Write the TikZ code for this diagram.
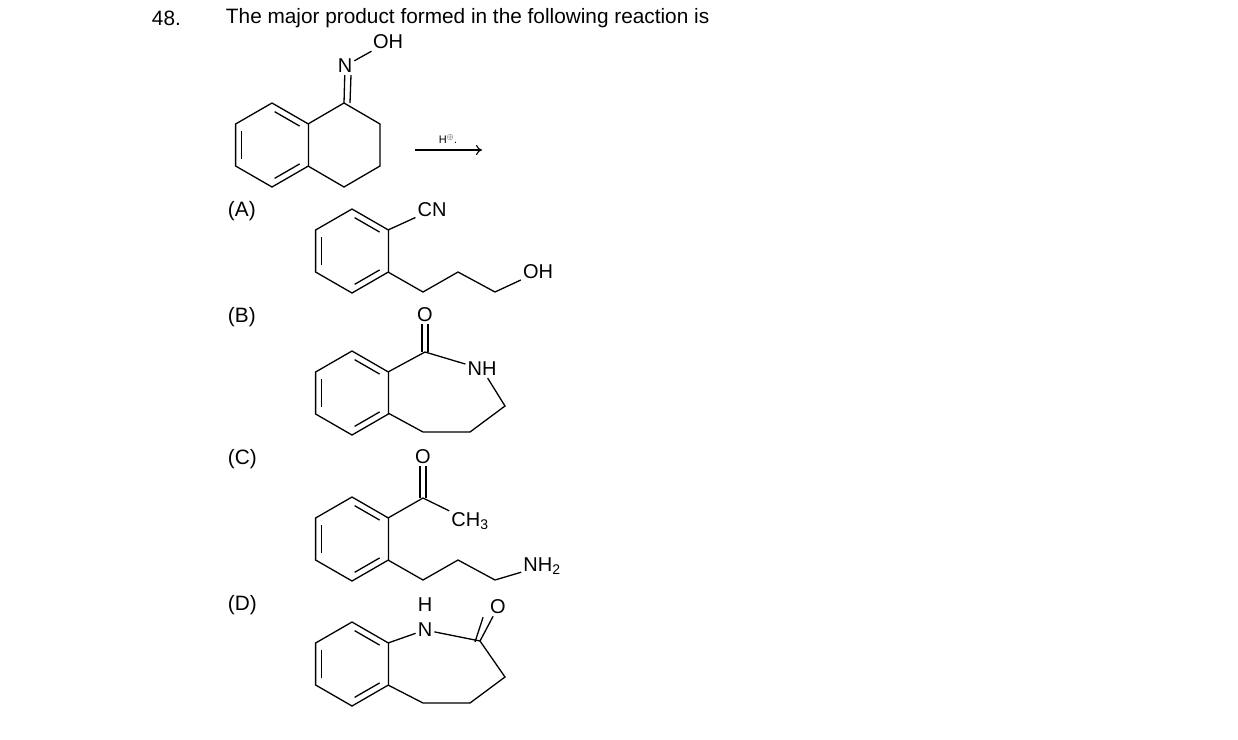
\documentclass[tikz,border=0pt]{standalone}
\usepackage{fontspec}
\setmainfont{Liberation Sans}
\usetikzlibrary{arrows.meta}
\begin{document}
\newcommand\benzring[2]{%
  \begin{scope}[shift={(#1,#2)}]
    \draw (0,-42)--(36.4,-21)--(36.4,21)--(0,42)--(-36.4,21)--(-36.4,-21)--cycle;
    \draw[inner] (-36.4,21)--(-36.4,-21);
    \draw[inner] (0,-42)--(36.4,-21);
    \draw[inner] (36.4,21)--(0,42);
  \end{scope}}
\begin{tikzpicture}[
        x=1pt, y=-1pt, line width=1.3pt,
        inner/.style={scale=0.83, shorten >=3pt, shorten <=3pt},
        atom/.style={inner sep=1.5pt, font=\fontsize{20}{20}\selectfont},
        lbl/.style={anchor=west, font=\fontsize{20.8}{21}\selectfont},
    ]
    \useasboundingbox (0,0) rectangle (1238,739);
    \node[lbl] (num) at (148,18) {48.};
    \node[lbl] (title) at (222,18) {The major product formed in the following reaction is};

    % oxime
    \benzring{272}{145}
    \draw (308,124)--(344,103)--(380,124)--(380,166)--(344,187)--(308,166);
    \node[atom] (n1) at (345,66) {N};
    \node[atom] (oh1) at (388,42) {OH};
    \draw (344,103)--(n1);
    \draw ([xshift=6pt]344,103)--([xshift=6pt]n1.south);
    \draw (n1)--(oh1);
    \node[font=\fontsize{11}{11}\selectfont] (hplus) at (448,139) {H$^{\oplus}$.};
    \coordinate (a1) at (415,150);
    \coordinate (a2) at (482,150);
    \draw[-{To[length=6pt,width=10pt]}, line width=1.1pt] (a1)--(a2);

    % (A)
    \node[lbl] (la) at (224,211) {(A)};
    \benzring{352}{251}
    \node[atom] (cn) at (432,210) {CN};
    \node[atom] (oha) at (538,272) {OH};
    \draw (388,230)--(cn);
    \draw (388,272)--(423,292)--(458,272)--(495,292)--(oha);

    % (B)
    \node[lbl] (lb) at (224,317) {(B)};
    \benzring{352}{393}
    \node[atom] (ob) at (425,315) {O};
    \node[atom] (nh) at (482,369) {NH};
    \draw (388,372)--(425,352)--(nh);
    \draw (422,352)--(ob.south -| 422,0); \draw (428,352)--(ob.south -| 428,0);
    \draw (nh)--(505,406)--(470,432)--(423,432)--(388,413);

    % (C)
    \node[lbl] (lc) at (224,459) {(C)};
    \benzring{352}{539}
    \node[atom] (oc) at (423,457) {O};
    \node[atom] (ch3) at (470,521) {CH\textsubscript{3}};
    \draw (388,518)--(423,498)--(ch3);
    \draw (420,498)--(oc.south -| 420,0); \draw (426,498)--(oc.south -| 426,0);
    \node[atom] (nh2) at (542,566) {NH\textsubscript{2}};
    \draw (388,560)--(423,580)--(458,560)--(495,580)--(nh2);

    % (D)
    \node[lbl] (ld) at (224,605) {(D)};
    \benzring{352}{664}
    \node[atom] (nd) at (425,630) {N};
    \node[atom] (hd) at (425,605) {H};
    \node[atom] (od) at (498,607) {O};
    \draw (388,643)--(nd)--(480,641)--(505,677)--(470,703)--(423,703)--(388,685);
    \draw (480,641)--(od);
    \draw ([xshift=-5pt,yshift=-1pt]480,641)--([xshift=-5pt,yshift=-1pt]od.south west);
\end{tikzpicture}
\end{document}
